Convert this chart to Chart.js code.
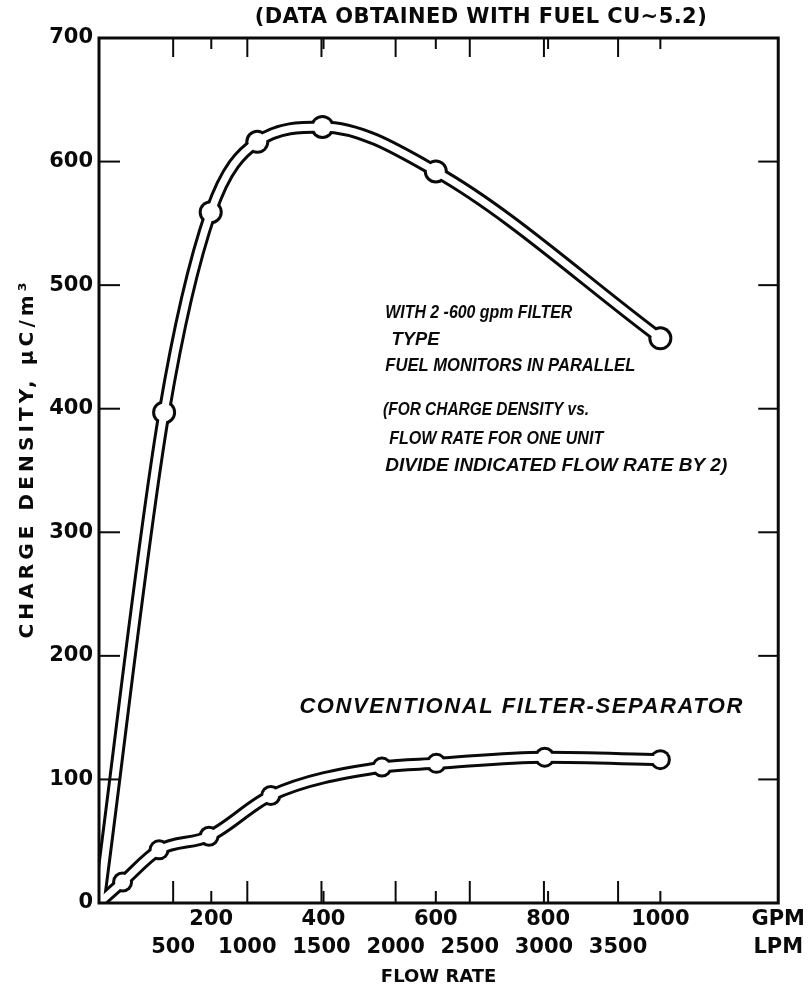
<!DOCTYPE html>
<html>
<head>
<meta charset="utf-8">
<script src="https://cdn.jsdelivr.net/npm/chart.js@4.4.1/dist/chart.umd.min.js"></script>
<style>
  html, body { margin: 0; padding: 0; background: #fff; }
</style>
</head>
<body>
<canvas id="c" width="809" height="992"></canvas>
<script>
// flow in GPM, charge density in uC/m3
const monitorFlow = [0, 116, 199, 282, 398, 600, 1000];
const monitorCharge = [0, 397, 559, 616, 628, 592, 457];

const separatorFlow = [0, 42, 107, 196, 306, 504, 601, 794, 1000];
const separatorCharge = [0, 17, 43, 54, 87, 110, 113, 118, 116];

const gpmTicks = [200, 400, 600, 800, 1000];
const lpmTicks = [500, 1000, 1500, 2000, 2500, 3000, 3500];
const chargeTicks = [0, 100, 200, 300, 400, 500, 600, 700];

const LPM_PER_GPM = 3.785;
const X_MAX = 1210;
const INK = "#0a0a0a";
const FONT = "'DejaVu Sans', sans-serif";
const NOTE_FAMILY = "'Liberation Sans', sans-serif";

const notes = [
  { text: "WITH 2 -600 gpm FILTER", flow: 510, charge: 478, width: 187, size: 19 },
  { text: "TYPE", flow: 521, charge: 456, width: 48, size: 19 },
  { text: "FUEL MONITORS IN PARALLEL", flow: 510, charge: 435, width: 250, size: 19 },
  { text: "(FOR CHARGE DENSITY vs.", flow: 506, charge: 399, width: 206, size: 19 },
  { text: "FLOW RATE FOR ONE UNIT", flow: 517, charge: 376, width: 214, size: 19 },
  { text: "DIVIDE INDICATED FLOW RATE BY 2)", flow: 510, charge: 354, width: 342, size: 19 },
  { text: "CONVENTIONAL FILTER-SEPARATOR", flow: 357, charge: 159, width: 443, size: 22 },
];

const toPoints = (xs, ys) => xs.map((x, i) => ({ x, y: ys[i] }));

function band(data, color, width, radius, order) {
  return {
    data,
    order,
    borderColor: color,
    borderWidth: width,
    pointRadius: (c) => (c.dataIndex === 0 ? 0 : radius),
    pointHoverRadius: (c) => (c.dataIndex === 0 ? 0 : radius),
    pointBackgroundColor: color,
    pointBorderWidth: 0,
    cubicInterpolationMode: "monotone",
    borderCapStyle: "round",
    borderJoinStyle: "round",
    clip: 0,
  };
}

function fitText(ctx, text, x, y, width) {
  const w = ctx.measureText(text).width;
  ctx.save();
  if (w > width) {
    ctx.translate(x, y);
    ctx.scale(width / w, 1);
    ctx.fillText(text, 0, 0);
  } else {
    ctx.letterSpacing = (width - w) / Math.max(text.length - 1, 1) + "px";
    ctx.fillText(text, x, y);
  }
  ctx.restore();
}

const frame = {
  id: "frame",
  afterDatasetsDraw(chart) {
    const { ctx, chartArea: a, scales } = chart;
    const line = (x0, y0, x1, y1) => {
      ctx.beginPath();
      ctx.moveTo(x0, y0);
      ctx.lineTo(x1, y1);
      ctx.stroke();
    };
    ctx.save();
    ctx.strokeStyle = INK;
    ctx.lineWidth = 2;
    lpmTicks.forEach((l) => {
      const x = scales.x.getPixelForValue(l / LPM_PER_GPM);
      line(x, a.bottom, x, a.bottom - 22);
      line(x, a.top, x, a.top + 19);
    });
    gpmTicks.forEach((g) => {
      const x = scales.x.getPixelForValue(g);
      line(x, a.bottom, x, a.bottom - 12);
      line(x, a.top, x, a.top + 11);
    });
    chargeTicks.slice(1, -1).forEach((v) => {
      const y = scales.y.getPixelForValue(v);
      line(a.left, y, a.left + 21, y);
      line(a.right - 20, y, a.right, y);
    });
    ctx.lineWidth = 3;
    ctx.strokeRect(a.left, a.top, a.right - a.left, a.bottom - a.top);
    ctx.restore();
  },
  afterDraw(chart) {
    const { ctx, chartArea: a, scales } = chart;
    ctx.save();
    ctx.fillStyle = INK;
    ctx.textBaseline = "middle";
    ctx.textAlign = "left";

    ctx.font = `bold 21px ${FONT}`;
    const tw = 452;
    fitText(ctx, "(DATA OBTAINED WITH FUEL CU~5.2)", a.left + 0.562 * (a.right - a.left) - tw / 2, a.top - 20, tw);

    ctx.save();
    ctx.translate(28, (a.top + a.bottom) / 2 - 10);
    ctx.rotate(-Math.PI / 2);
    ctx.font = `bold 20px ${FONT}`;
    fitText(ctx, "CHARGE DENSITY, \u00b5C/m\u00b3", -178, 0, 356);
    ctx.restore();

    notes.forEach((n) => {
      ctx.font = `italic bold ${n.size}px ${NOTE_FAMILY}`;
      fitText(ctx, n.text, scales.x.getPixelForValue(n.flow), scales.y.getPixelForValue(n.charge), n.width);
    });
    ctx.restore();
  },
};

const tickFont = { family: FONT, size: 21, weight: "bold" };

new Chart(document.getElementById("c"), {
  type: "line",
  data: {
    datasets: [
      band(toPoints(monitorFlow, monitorCharge), "#ffffff", 7, 9, 0),
      band(toPoints(separatorFlow, separatorCharge), "#ffffff", 7, 7.5, 0),
      band(toPoints(monitorFlow, monitorCharge), INK, 13, 12, 1),
      band(toPoints(separatorFlow, separatorCharge), INK, 13, 10.5, 1),
    ],
  },
  options: {
    responsive: false,
    animation: false,
    events: [],
    layout: { padding: { left: 0, right: 29, top: 38, bottom: 0 } },
    plugins: { legend: { display: false }, tooltip: { enabled: false }, title: { display: false } },
    scales: {
      x: {
        type: "linear",
        position: "bottom",
        weight: 0,
        min: 0,
        max: X_MAX,
        grid: { display: false, drawTicks: false },
        border: { display: false },
        afterBuildTicks: (s) => {
          s.ticks = [...gpmTicks, X_MAX].map((value) => ({ value }));
        },
        afterFit: (s) => {
          s.height = 28;
        },
        ticks: {
          autoSkip: false,
          maxRotation: 0,
          padding: 4,
          color: INK,
          font: tickFont,
          callback: (v, i) => (i < gpmTicks.length ? String(gpmTicks[i]) : "GPM"),
        },
      },
      xl: {
        type: "linear",
        axis: "x",
        position: "bottom",
        weight: 1,
        min: 0,
        max: X_MAX,
        grid: { display: false, drawTicks: false },
        border: { display: false },
        afterBuildTicks: (s) => {
          s.ticks = [...lpmTicks.map((l) => l / LPM_PER_GPM), X_MAX].map((value) => ({ value }));
        },
        afterFit: (s) => {
          s.height = 61;
        },
        ticks: {
          autoSkip: false,
          maxRotation: 0,
          padding: 4,
          color: INK,
          font: tickFont,
          callback: (v, i) => (i < lpmTicks.length ? String(lpmTicks[i]) : "LPM"),
        },
        title: {
          display: true,
          text: "FLOW RATE",
          color: INK,
          font: { family: FONT, size: 18, weight: "bold" },
          padding: { top: 0, bottom: 4 },
        },
      },
      y: {
        type: "linear",
        min: 0,
        max: 700,
        grid: { display: false, drawTicks: false },
        border: { display: false },
        afterBuildTicks: (s) => {
          s.ticks = chargeTicks.map((value) => ({ value }));
        },
        afterFit: (s) => {
          s.width = 99;
        },
        ticks: { padding: 6, color: INK, font: tickFont },
      },
    },
  },
  plugins: [frame],
});
</script>
</body>
</html>
